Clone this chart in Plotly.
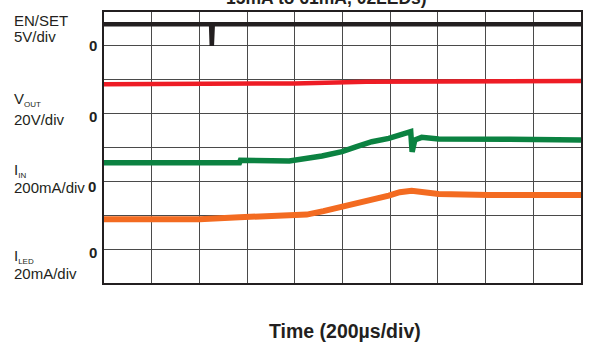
import plotly.graph_objects as go

# Time in microseconds (10 div x 200 us), vertical in scope divisions (0..8)
t_en = [0, 449, 452, 456, 2000]
en_set = [7.64, 7.64, 7.0, 7.64, 7.64]

t_vout = [0, 800, 1100, 2000]
vout = [5.87, 5.89, 5.94, 5.96]

t_iin = [0, 568, 572, 777, 914, 998, 1056, 1123, 1194, 1248, 1286, 1292, 1303, 1332, 1403, 1700, 2000]
iin = [3.55, 3.55, 3.62, 3.60, 3.75, 3.88, 4.02, 4.17, 4.27, 4.40, 4.47, 3.87, 4.22, 4.30, 4.25, 4.24, 4.22]

t_iled = [0, 401, 568, 777, 850, 920, 1000, 1056, 1140, 1194, 1240, 1290, 1403, 1612, 2000]
iled = [1.88, 1.88, 1.94, 1.97, 2.02, 2.12, 2.25, 2.35, 2.47, 2.58, 2.68, 2.72, 2.63, 2.60, 2.60]

title_text = "15mA to 61mA, 02LEDs)"
x_title = "Time (200µs/div)"

W, H = 589, 352
L, R, T, B = 104, 6, 12, 69
PW, PH = W - L - R, H - T - B

def px(x):
    return (x - L) / PW

def py(y):
    return (T + PH - y) / PH

FONT = "Arial, Liberation Sans, sans-serif"

fig = go.Figure()
fig.add_trace(go.Scatter(x=t_en, y=en_set, mode="lines", line=dict(color="#231f20", width=4.5)))
fig.add_trace(go.Scatter(x=t_vout, y=vout, mode="lines", line=dict(color="#ee1c25", width=4.5)))
fig.add_trace(go.Scatter(x=t_iin, y=iin, mode="lines", line=dict(color="#0b8241", width=5.5)))
fig.add_trace(go.Scatter(x=t_iled, y=iled, mode="lines", line=dict(color="#f36b21", width=6)))

ax = dict(showticklabels=False, ticks="", showgrid=True, gridcolor="#4a4a4a", gridwidth=1.4,
          zeroline=False, showline=True, linecolor="#231f20", linewidth=2, mirror=True)
fig.update_xaxes(range=[0, 2000], dtick=200, **ax)
fig.update_yaxes(range=[0, 8], dtick=1, **ax)

anns = []
def txt(text, x, y, size=15, bold=False, xanchor="left"):
    anns.append(dict(text=("<b>%s</b>" % text) if bold else text, xref="paper", yref="paper",
                     x=px(x), y=py(y), xanchor=xanchor, yanchor="middle", showarrow=False,
                     font=dict(family=FONT, size=size, color="#231f20")))

def sub(s):
    return "<sub><span style='font-size:8px'>%s</span></sub>" % s

txt("EN/SET", 12, 20)
txt("5V/div", 12, 37)
txt("0", 93, 45, bold=True, xanchor="center")
txt("V" + sub("OUT"), 12, 99)
txt("20V/div", 12, 119)
txt("0", 93, 116, bold=True, xanchor="center")
txt("I" + sub("IN"), 12, 170)
txt("200mA/div", 12, 187)
txt("0", 92, 186, bold=True, xanchor="center")
txt("I" + sub("LED"), 12, 256)
txt("20mA/div", 12, 273)
txt("0", 93, 253, bold=True, xanchor="center")
txt(title_text, 327, -2, size=17.5, bold=True, xanchor="center")
txt(x_title, 346, 331, size=19.5, bold=True, xanchor="center")

fig.update_layout(width=W, height=H, margin=dict(l=L, r=R, t=T, b=B),
                  paper_bgcolor="white", plot_bgcolor="white", showlegend=False,
                  annotations=anns)
fig.write_html("out.html")
